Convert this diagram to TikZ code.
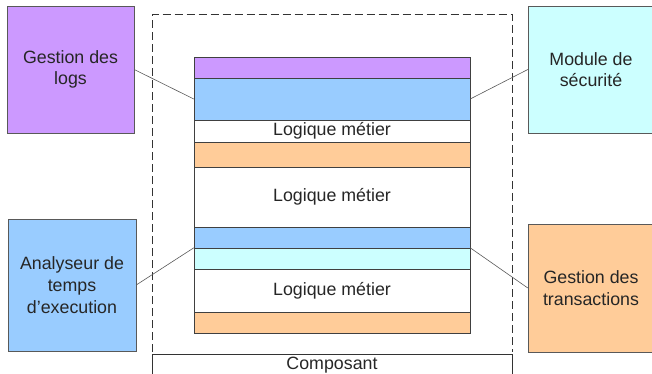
\documentclass[tikz,border=0pt]{standalone}
\usepackage{fontspec}
\setmainfont{Liberation Sans}
\usepackage{tikz}

\definecolor{logpurple}{HTML}{CC99FF}
\definecolor{anablue}{HTML}{99CCFF}
\definecolor{secucyan}{HTML}{CCFFFF}
\definecolor{transorange}{HTML}{FFCC99}

\tikzset{
    layer/.style={draw=black!75, minimum width=276pt, inner sep=0pt},
    sidebox/.style={draw=black!65, align=center, inner sep=0pt},
    link/.style={draw=black!65, line width=0.6pt}
}

\begin{document}
\begin{tikzpicture}[x=1pt, y=-1pt, font=\fontsize{17.8}{21.7}\selectfont, text=black!85]
    \useasboundingbox (0,0) rectangle (652,374);

    % Draw the component frame
    \draw[black!80, line width=0.8pt, dash pattern=on 8pt off 4pt] (152,352) -- (152,14.5) -- (512,14.5) -- (512,352);
    \draw[black!80, line width=0.8pt] (152,374) -- (152,354) -- (512,354) -- (512,374);
    \node (comp) at (332,365) {Composant};

    % Layers of the stack
    \node[layer, fill=logpurple, minimum height=21pt] (l1) at (332,67.5) {};
    \node[layer, fill=anablue, minimum height=42pt] (l2) at (332,99) {};
    \node[layer, fill=white, minimum height=22pt] (l3) at (332,131) {Logique métier};
    \node[layer, fill=transorange, minimum height=25pt] (l4) at (332,154.5) {};
    \node[layer, fill=white, minimum height=60pt] (l5) at (332,197) {Logique métier};
    \node[layer, fill=anablue, minimum height=21pt] (l6) at (332,237.5) {};
    \node[layer, fill=secucyan, minimum height=21pt] (l7) at (332,258.5) {};
    \node[layer, fill=white, minimum height=43pt] (l8) at (332,290.5) {Logique métier};
    \node[layer, fill=transorange, minimum height=21pt] (l9) at (332,322.5) {};

    % Boxes on the sides
    \node[sidebox, fill=logpurple, minimum width=127pt, minimum height=127pt] (logs) at (70.5,69.5) {Gestion des\\logs};
    \node[sidebox, fill=secucyan, minimum width=126pt, minimum height=127pt] (secu) at (591,69.5) {Module de\\sécurité};
    \node[sidebox, fill=anablue, minimum width=128pt, minimum height=132pt] (ana) at (72,285) {Analyseur de\\temps\\d’execution};
    \node[sidebox, fill=transorange, minimum width=126pt, minimum height=128pt] (trans) at (591,288) {Gestion des\\transactions};

    % Draw the links
    \draw[link] (logs.east) -- (l2.west);
    \draw[link] (secu.west) -- (l2.east);
    \draw[link] (ana.east) -- (l7.north west);
    \draw[link] (trans.west) -- (l7.north east);

\end{tikzpicture}
\end{document}
